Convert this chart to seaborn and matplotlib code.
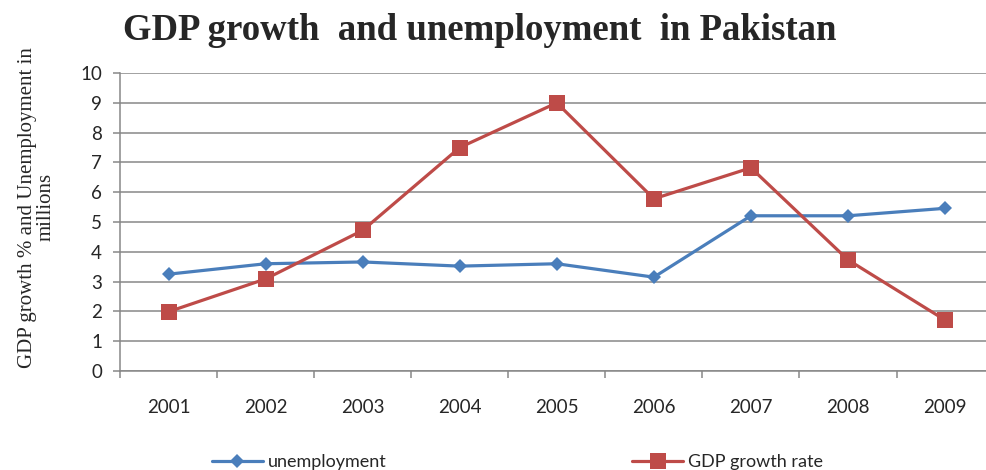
# GDP growth and unemployment in Pakistan, 2001-2009
import numpy as np
import pandas as pd
import seaborn as sns
import matplotlib.pyplot as plt
import matplotlib

years = ['2001', '2002', '2003', '2004', '2005', '2006', '2007', '2008', '2009']
unemployment = [3.25, 3.6, 3.66, 3.52, 3.6, 3.15, 5.21, 5.21, 5.46]
gdp_growth = [1.99, 3.09, 4.72, 7.5, 9.0, 5.78, 6.82, 3.73, 1.71]
y_ticks = list(range(0, 11))

sns.set_style('white')
matplotlib.rcParams['font.family'] = ['Lato', 'DejaVu Sans']

df = pd.DataFrame({
    'pos': list(range(len(years))) * 2,
    'value': unemployment + gdp_growth,
    'series': ['unemployment'] * len(years) + ['GDP growth rate'] * len(years),
})

fig = plt.figure(figsize=(9.86, 4.70), dpi=100)
ax = fig.add_axes([0.1217, 0.2106, 0.886, 0.634])

palette = {'unemployment': '#4A7EBB', 'GDP growth rate': '#BE4B48'}
markers = {'unemployment': 'D', 'GDP growth rate': 's'}
sns.lineplot(data=df, x='pos', y='value', hue='series', style='series',
             palette=palette, markers=markers, dashes=False, linewidth=2.3,
             markeredgewidth=0, ax=ax, legend=False)
for line, ms in zip(ax.lines, [7.5, 11]):
    line.set_markersize(ms)

# Axes, grid, ticks (Excel look)
ax.set_ylim(0, 10)
ax.set_xlim(-0.5, len(years) - 0.5)
ax.set_yticks(y_ticks)
ax.set_xticks(np.arange(len(years)))
ax.set_xticklabels(years)
ax.set_xticks(np.arange(-0.5, len(years)), minor=True)
ax.yaxis.grid(True, color='#878787', linewidth=1.1)
ax.set_axisbelow(True)
for s in ['top', 'right']:
    ax.spines[s].set_visible(False)
for s in ['left', 'bottom']:
    ax.spines[s].set_color('#878787')
    ax.spines[s].set_linewidth(1.1)
ax.tick_params(axis='y', which='major', length=5, color='#878787', width=1.1,
               labelsize=13.5, pad=8, left=True)
ax.tick_params(axis='x', which='major', length=0, labelsize=13.5, pad=20)
ax.tick_params(axis='x', which='minor', length=5, color='#878787', width=1.1, bottom=True)
ax.set_xlabel('')
ax.set_ylabel('GDP growth % and Unemployment in\nmillions', family='Liberation Serif',
              fontsize=15, linespacing=0.95)
ax.yaxis.set_label_coords(-0.074, 0.549)

fig.text(0.487, 0.936, 'GDP growth  and unemployment  in Pakistan',
         family='Liberation Serif', fontweight='bold', fontsize=26.5,
         ha='center', va='center')

# Legend at bottom
handles = [
    matplotlib.lines.Line2D([], [], color=palette['unemployment'], marker='D',
                            markersize=7.5, markeredgewidth=0, linewidth=2.3),
    matplotlib.lines.Line2D([], [], color=palette['GDP growth rate'], marker='s',
                            markersize=11, markeredgewidth=0, linewidth=2.3),
]
fig.legend(handles, ['unemployment', 'GDP growth rate'], loc='center left',
           bbox_to_anchor=(212 / 986, 1 - 462 / 470), ncol=2, frameon=False,
           fontsize=13, handlelength=2.8, handletextpad=0.3, columnspacing=13.6,
           borderpad=0, borderaxespad=0)

fig.savefig('out.png', dpi=100)
